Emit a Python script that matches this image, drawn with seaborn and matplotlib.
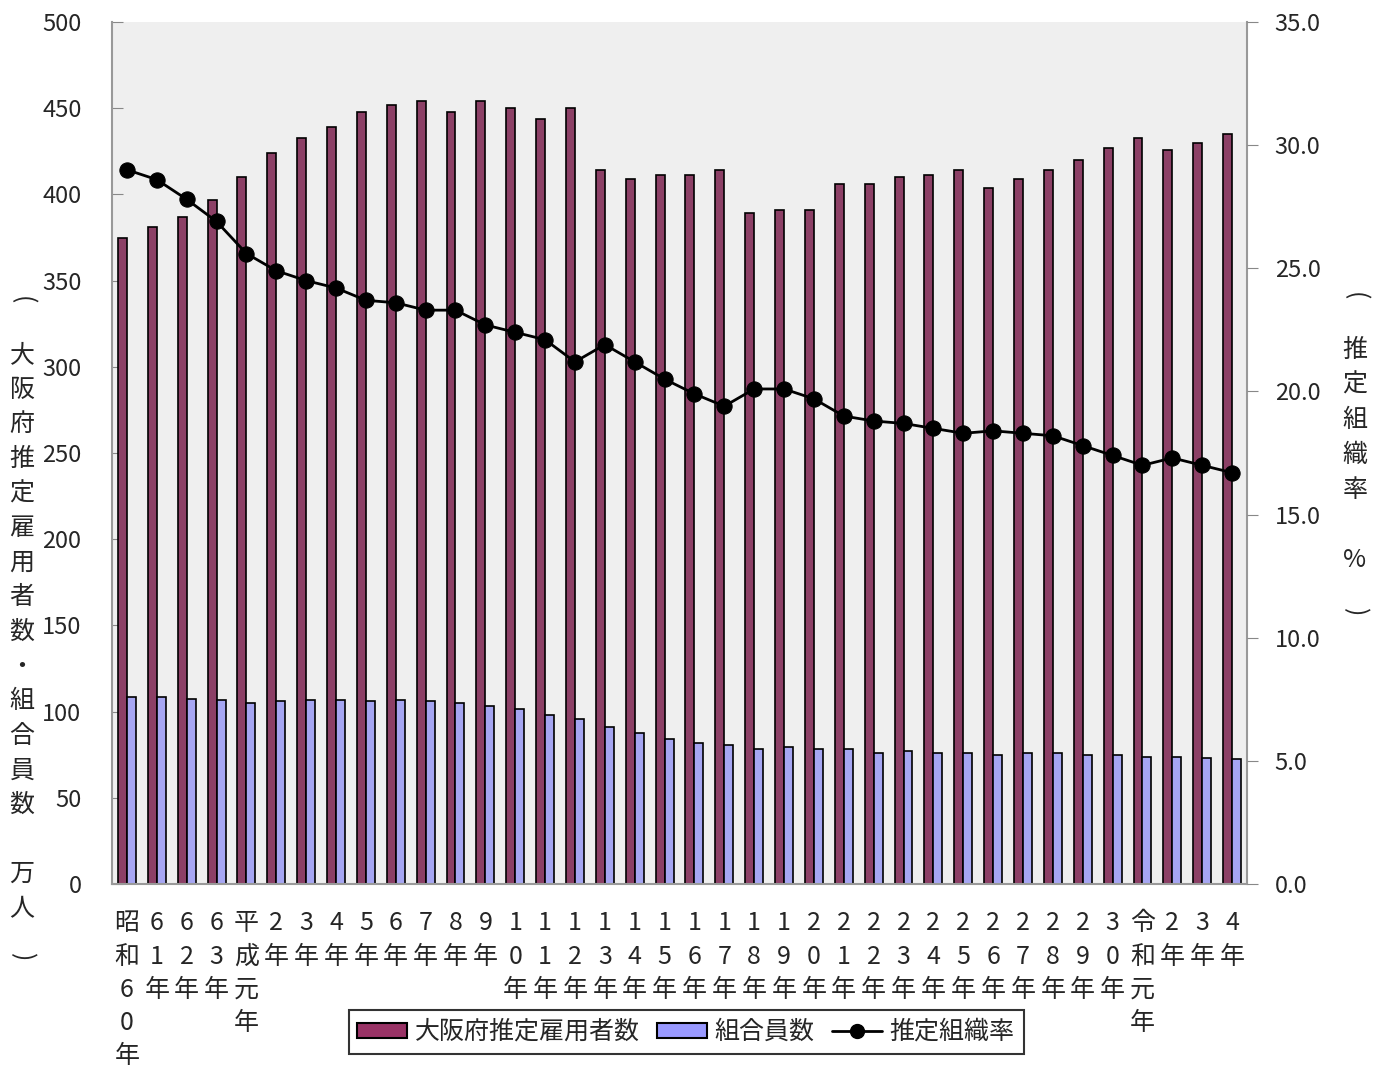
import matplotlib
matplotlib.use("Agg")
import matplotlib.pyplot as plt
import pandas as pd
import seaborn as sns
from matplotlib.patches import Patch
from matplotlib.lines import Line2D

sns.set_style("white")
plt.rcParams['font.family'] = ['Noto Sans CJK JP', 'DejaVu Sans']

# x labels (stacked vertically, one character per row)
years = ["昭和60年", "61年", "62年", "63年", "平成元年", "2年", "3年", "4年", "5年",
         "6年", "7年", "8年", "9年", "10年", "11年", "12年", "13年", "14年", "15年",
         "16年", "17年", "18年", "19年", "20年", "21年", "22年", "23年", "24年",
         "25年", "26年", "27年", "28年", "29年", "30年", "令和元年", "2年", "3年", "4年"]

# 大阪府推定雇用者数 (万人)
employees = [375, 381, 387, 397, 410, 424, 433, 439, 448, 452, 454, 448, 454, 450,
             444, 450, 414, 409, 411, 411, 414, 389, 391, 391, 406, 406, 410, 411,
             414, 404, 409, 414, 420, 427, 433, 426, 430, 435]

# 組合員数 (万人)
members = [108.5, 108.5, 107.3, 107, 105, 106, 107, 107, 106, 107, 106, 105, 103,
           101.5, 98, 95.7, 91, 87.6, 84, 82, 80.6, 78.3, 79.7, 78.1, 78.1, 76.2,
           77.3, 76.2, 76.2, 74.8, 76.2, 75.8, 74.8, 74.8, 73.7, 73.7, 73.3, 72.5]

# 推定組織率 (%)
rate = [29.0, 28.6, 27.8, 26.9, 25.6, 24.9, 24.5, 24.2, 23.7, 23.6, 23.3, 23.3,
        22.7, 22.4, 22.1, 21.2, 21.9, 21.2, 20.5, 19.9, 19.4, 20.1, 20.1, 19.7,
        19.0, 18.8, 18.7, 18.5, 18.3, 18.4, 18.3, 18.2, 17.8, 17.4, 17.0, 17.3,
        17.0, 16.7]

maroon = "#993366"
blue = "#9999FF"

n = len(years)
idx = list(range(n))
df = pd.DataFrame({
    "pos": idx * 2,
    "value": employees + members,
    "series": ["大阪府推定雇用者数"] * n + ["組合員数"] * n,
})

fig = plt.figure(figsize=(13.86, 10.7), dpi=100)
ax = fig.add_axes([112 / 1386, 1 - 884 / 1070, (1247 - 112) / 1386, (884 - 22) / 1070])
ax.set_facecolor("#efefef")

sns.barplot(data=df, x="pos", y="value", hue="series", order=idx,
            palette=[maroon, blue], width=0.6, edgecolor="black", linewidth=1.2,
            ax=ax, legend=False)

ax.set_ylim(0, 500)
ax.set_xlim(-0.5, n - 0.5)
ax.set_yticks(range(0, 501, 50))
ax.set_ylabel("")
ax.set_xlabel("")
ax.set_xticks(idx)
ax.set_xticklabels(["\n".join(y) for y in years], fontsize=18, linespacing=1.36)
ax.set_xticks([i + 0.5 for i in range(n - 1)], minor=True)
ax.tick_params(axis="x", which="major", length=0, pad=19)
ax.tick_params(axis="x", which="minor", direction="in", length=7, color="#555555")
ax.tick_params(axis="y", direction="in", length=8, color="#888888", labelsize=17, pad=22)
for s in ["left", "bottom", "right"]:
    ax.spines[s].set_color("#999999")
    ax.spines[s].set_linewidth(1.5)
ax.spines["top"].set_visible(False)

ax2 = ax.twinx()
sns.lineplot(x=idx, y=rate, color="black", marker="o",
             markersize=11, linewidth=2, markeredgecolor="black", ax=ax2)
ax2.set_ylim(0, 35)
ax2.set_yticks([0, 5, 10, 15, 20, 25, 30, 35])
ax2.set_yticklabels([f"{v:.1f}" for v in [0, 5, 10, 15, 20, 25, 30, 35]])
ax2.tick_params(axis="y", direction="out", length=8, color="#888888", labelsize=17, pad=12)
for s in ax2.spines.values():
    s.set_visible(False)

# vertical axis titles
left_label = "大阪府推定雇用者数・組合員数　万人"
fig.text(22 / 1386, 1 - 632 / 1070, "\n".join(left_label), fontsize=18,
         ha="center", va="center", linespacing=1.43)
fig.text(22 / 1386, 1 - 300 / 1070, "(", fontsize=18, rotation=-90, ha="center", va="center")
fig.text(22 / 1386, 1 - 957 / 1070, ")", fontsize=18, rotation=-90, ha="center", va="center")

right_label = "推定組織率　%"
fig.text(1355 / 1386, 1 - 455 / 1070, "\n".join(right_label), fontsize=18,
         ha="center", va="center", linespacing=1.45)
fig.text(1355 / 1386, 1 - 296 / 1070, "(", fontsize=18, rotation=-90, ha="center", va="center")
fig.text(1355 / 1386, 1 - 612 / 1070, ")", fontsize=18, rotation=-90, ha="center", va="center")

handles = [Patch(facecolor=maroon, edgecolor="black", linewidth=1.5, label="大阪府推定雇用者数"),
           Patch(facecolor=blue, edgecolor="black", linewidth=1.5, label="組合員数"),
           Line2D([], [], color="black", marker="o", markersize=10, linewidth=2,
                  label="推定組織率")]
leg = fig.legend(handles=handles, loc="center", bbox_to_anchor=(686 / 1386, 1 - 1032 / 1070),
                 ncol=3, fontsize=18, frameon=True, fancybox=False, edgecolor="black",
                 handlelength=2.0, handleheight=0.55, handletextpad=0.3,
                 columnspacing=0.7, borderpad=0.35, borderaxespad=0)
leg.get_frame().set_linewidth(1.5)

fig.savefig("out.png", dpi=100, facecolor="white")
